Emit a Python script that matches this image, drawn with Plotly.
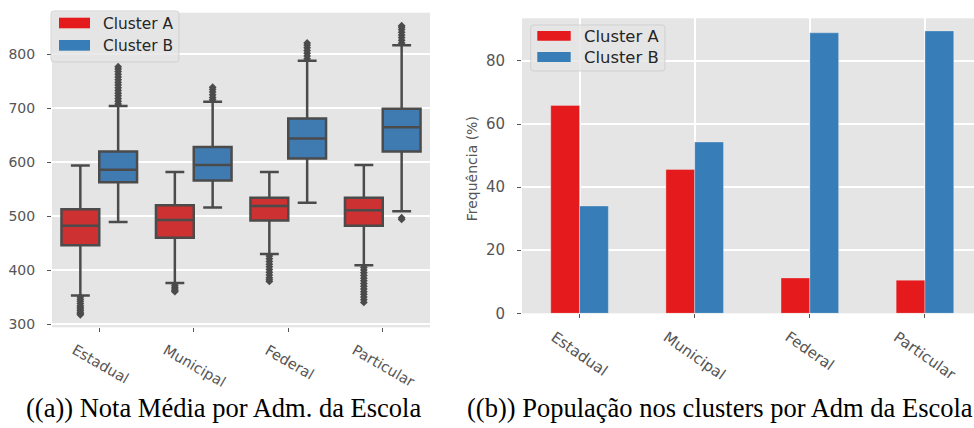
import plotly.graph_objects as go

W, H = 974, 428

categories = ["Estadual", "Municipal", "Federal", "Particular"]
clusters = ["Cluster A", "Cluster B"]

# ---- (a) box statistics ----
a_lower = [353, 376, 430, 409]
a_q1 = [446, 460, 492, 482]
a_median = [482, 493, 519, 511]
a_q3 = [513, 520, 534, 534]
a_upper = [594, 582, 582, 595]

b_lower = [489, 516, 525, 509]
b_q1 = [563, 566, 607, 620]
b_median = [586, 595, 644, 665]
b_q3 = [620, 628, 681, 699]
b_upper = [704, 712, 788, 817]

a_outliers = [
    [350, 346, 342, 338, 334, 331, 328, 325, 322, 319, 317],
    [372, 368, 365, 362, 360],
    [426, 421, 416, 411, 406, 401, 396, 391, 386, 382, 379],
    [405, 400, 395, 390, 385, 380, 375, 370, 365, 360, 355, 350, 345, 340],
]
b_outliers = [
    [708, 713, 718, 723, 728, 733, 738, 743, 748, 753, 758, 763, 768, 773, 777],
    [716, 720, 725, 730, 735, 739],
    [792, 797, 802, 807, 812, 817, 821],
    [497, 494, 821, 826, 831, 836, 841, 846, 850, 853],
]

# ---- (b) frequencies (%) ----
freq_a = [65.9, 45.6, 11.2, 10.5]
freq_b = [34.0, 54.3, 88.9, 89.5]

captions = ["((a)) Nota Média por Adm. da Escola",
            "((b)) População nos clusters por Adm da Escola"]
ytitle_b = "Frequência (%)"

# ---- styles ----
BG = "#E5E5E5"
TICK = "#555555"
EDGE = "#4b4b4b"
BOX_FILL = ["#cd3132", "#3f7bb1"]
PATCH = ["#e41a1c", "#377eb8"]
FONT = "DejaVu Sans"


def px(x):
    return x / W


def py(y):
    return 1 - y / H


fig = go.Figure()

idx = list(range(len(categories)))
stats = [
    (a_lower, a_q1, a_median, a_q3, a_upper, a_outliers, -0.2),
    (b_lower, b_q1, b_median, b_q3, b_upper, b_outliers, 0.2),
]
for k, (lo, q1, med, q3, up, outl, off) in enumerate(stats):
    pos = [i + off for i in idx]
    fig.add_trace(go.Box(
        x=pos, q1=q1, median=med, q3=q3, lowerfence=lo, upperfence=up,
        width=0.4, whiskerwidth=0.5,
        fillcolor=BOX_FILL[k], line=dict(color=EDGE, width=2.5),
        name=clusters[k], showlegend=False, boxpoints=False,
        xaxis="x", yaxis="y",
    ))
    ox, oy = [], []
    for i, vals in zip(idx, outl):
        ox += [i + off] * len(vals)
        oy += vals
    fig.add_trace(go.Scatter(
        x=ox, y=oy, mode="markers",
        marker=dict(symbol="diamond", size=6, color=EDGE),
        showlegend=False, xaxis="x", yaxis="y", hoverinfo="skip",
    ))

for k, vals in enumerate([freq_a, freq_b]):
    fig.add_trace(go.Bar(
        x=idx, y=vals, name=clusters[k], marker_color=PATCH[k],
        marker_line=dict(width=0.6, color="rgba(238,238,238,0.6)"),
        showlegend=False, xaxis="x2", yaxis="y2",
    ))

# axes geometry (pixels -> paper)
L1, R1, T1, B1 = 52, 430, 12.7, 327.3
L2, R2, T2, B2 = 522, 974, 18.3, 313.3

axis_common = dict(showline=False, zeroline=False, ticks="outside", ticklen=4,
                   tickwidth=1, tickcolor=TICK, tickfont=dict(color=TICK, family=FONT))

fig.update_layout(
    width=W, height=H, margin=dict(l=0, r=0, t=0, b=0),
    paper_bgcolor="white", plot_bgcolor=BG, template="none",
    font=dict(family=FONT, color=TICK),
    boxmode="overlay", barmode="group", bargap=0.5, bargroupgap=0,
    xaxis=dict(domain=[px(L1), px(R1)], range=[-0.5, 3.5], tickvals=idx,
               showticklabels=False, showgrid=False, anchor="y", **axis_common),
    yaxis=dict(domain=[py(B1), py(T1)], range=[293.9, 877.2],
               tickvals=[300, 400, 500, 600, 700, 800],
               showgrid=True, gridcolor="white", gridwidth=1.5,
               ticklabelstandoff=9, anchor="x",
               **{**axis_common, "tickfont": dict(color=TICK, family=FONT, size=14)}),
    xaxis2=dict(domain=[px(L2), 1.0], range=[-0.5, 3.426], tickvals=idx,
                showticklabels=False, showgrid=True, gridcolor="white", gridwidth=1.6,
                anchor="y2", **axis_common),
    yaxis2=dict(domain=[py(B2), py(T2)], range=[0, 93.5],
                tickvals=[0, 20, 40, 60, 80],
                showgrid=True, gridcolor="white", gridwidth=1.6,
                ticklabelstandoff=9, anchor="x2",
                **{**axis_common, "tickfont": dict(color=TICK, family=FONT, size=15)}),
)

annotations = []
shapes = []

# rotated category labels
for i, c in enumerate(categories):
    annotations.append(dict(text=c, x=i + 0.01, xref="x", y=py(339), yref="paper",
                            xanchor="center", yanchor="top", textangle=30, showarrow=False,
                            font=dict(family=FONT, size=14.5, color=TICK)))
    annotations.append(dict(text=c, x=i, xref="x2", y=py(325), yref="paper",
                            xanchor="center", yanchor="top", textangle=35, showarrow=False,
                            font=dict(family=FONT, size=15, color=TICK)))

# y title of (b)
annotations.append(dict(text=ytitle_b, x=px(471.5), y=py((T2 + B2) / 2 + 3), xref="paper",
                        yref="paper", xanchor="center", yanchor="middle", textangle=-90,
                        showarrow=False, font=dict(family=FONT, size=14, color=TICK)))

# captions
annotations.append(dict(text=captions[0], x=px(24), y=py(408), xref="paper", yref="paper",
                        xanchor="left", yanchor="middle", showarrow=False,
                        font=dict(family="Liberation Serif", size=26.5, color="black")))
annotations.append(dict(text=captions[1], x=px(465), y=py(408), xref="paper", yref="paper",
                        xanchor="left", yanchor="middle", showarrow=False,
                        font=dict(family="Liberation Serif", size=26.5, color="black")))


def rounded(x0, y0, x1, y1, r=3):
    X0, X1 = px(x0), px(x1)
    Y0, Y1 = py(y0), py(y1)
    rx, ry = r / W, r / H
    return (f"M {X0+rx} {Y0} L {X1-rx} {Y0} Q {X1} {Y0} {X1} {Y0-ry} "
            f"L {X1} {Y1+ry} Q {X1} {Y1} {X1-rx} {Y1} L {X0+rx} {Y1} "
            f"Q {X0} {Y1} {X0} {Y1+ry} L {X0} {Y0-ry} Q {X0} {Y0} {X0+rx} {Y0} Z")


legends = [
    # box, patch x-range, patch y-ranges, text x, text y centers, font size
    ((51, 11, 179, 62), (59, 90), [(17.7, 28.3), (40, 50.7)], 101, [23.7, 45.7], 15.4),
    ((530.7, 25, 665, 71), (537.3, 570.7), [(31, 40.7), (52, 62)], 581.5, [36, 57.5], 16.4),
]
for (bx0, by0, bx1, by1), (pxa, pxb), prows, tx, tys, fs in legends:
    shapes.append(dict(type="path", path=rounded(bx0, by0, bx1, by1), xref="paper",
                       yref="paper", fillcolor="rgba(229,229,229,0.8)",
                       line=dict(color="rgba(204,204,204,0.8)", width=1)))
    for k in range(2):
        shapes.append(dict(type="rect", xref="paper", yref="paper",
                           x0=px(pxa), x1=px(pxb), y0=py(prows[k][1]), y1=py(prows[k][0]),
                           fillcolor=PATCH[k], line=dict(width=0)))
        annotations.append(dict(text=clusters[k], x=px(tx), y=py(tys[k]), xref="paper",
                                yref="paper", xanchor="left", yanchor="middle",
                                showarrow=False,
                                font=dict(family=FONT, size=fs, color="#262626")))

fig.update_layout(annotations=annotations, shapes=shapes)
fig.write_html("out.html")
